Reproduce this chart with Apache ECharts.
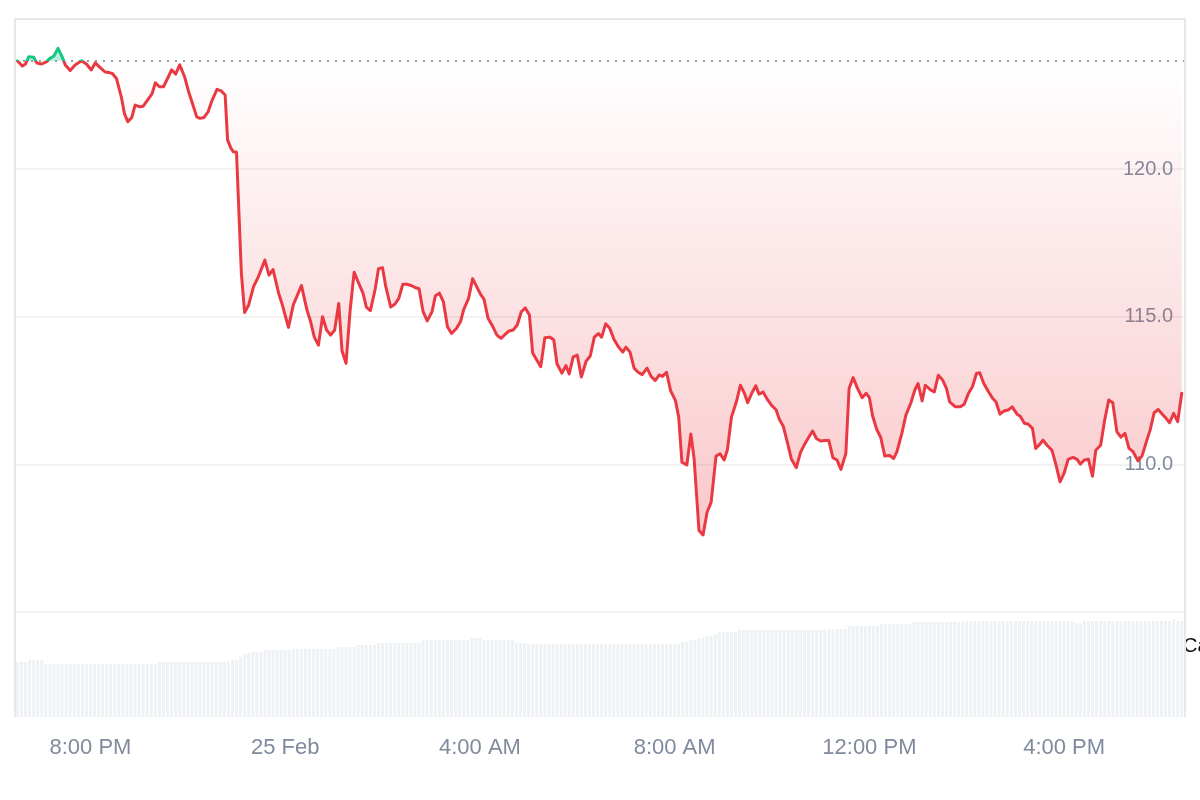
<!DOCTYPE html>
<html>
<head>
<meta charset="utf-8">
<script src="https://cdn.jsdelivr.net/npm/echarts@6/dist/echarts.min.js"></script>
<style>
html,body{margin:0;padding:0;background:#fff;}
#chart{width:1200px;height:800px;}
</style>
</head>
<body>
<div id="chart"></div>
<script>
// Time of each price point, in minutes after 00:00 on 24 Feb
const minutes = [
1110,1116,1120,1124,1130,1134,1140,1146,1150,1155,1160,1165,1169,1175,1181,1189,1195,1201,1206,1212,
1218,1223,1227,1232,1238,1242,1246,1251,1255,1261,1265,1271,1276,1280,1285,1290,1295,1300,1305,1310,
1316,1321,1327,1331,1335,1340,1345,1350,1356,1361,1366,1369,1373,1376,1380,1386,1390,1395,1401,1407,
1415,1420,1425,1432,1436,1444,1450,
1460,1467,1471,1476,1481,1486,1491,1496,1501,1506,1510,1515,1520,1525,1530,1536,1540,1545,1551,1555,
1560,1564,1570,1575,1580,1585,1590,1596,1601,1605,1610,1615,1621,1625,1630,1635,1640,1645,1651,1656,
1660,1666,1671,1676,1681,1685,1690,1696,1701,1706,1711,1716,1721,1726,1731,1736,1741,1745,1750,1755,
1760,1766,1771,1775,1781,1786,1790,1795,1800,1805,1811,1816,
1821,1826,1830,1835,1840,1845,1851,1856,1860,1865,1870,1875,1880,1886,1891,1896,1901,1905,1910,1915,
1921,1925,1929,1935,1940,1944,1950,1955,1960,1965,1971,1976,1981,1985,1990,1996,2001,2006,2010,2015,
2020,2024,2029,2034,2040,2045,2049,2054,2059,2064,2070,2075,2079,2085,2090,2095,2100,2105,2110,2115,
2120,2125,2131,2135,2140,2145,2151,2156,2160,2164,2169,2174,
2179,2185,2190,2194,2200,2205,2211,2216,2220,2225,2229,2235,2240,2245,2250,2255,2259,2266,2272,2277,
2282,2287,2292,2296,2301,2307,2312,2316,2321,2326,2331,2336,2342,2346,2351,2356,2361,2365,2369,2374,
2379,2385,2390,2395,2400,2405,2411,2416,2420,2425,2430,2435,2439,2445,2450,2455,2460,2465,2470,2475,
2480,2485,2491,2496,2502,2506,2511,2516,2521,2526,2530,2535,2540,2545
];

const prices = [
123.67,123.49,123.56,123.81,123.79,123.59,123.56,123.64,123.75,123.83,124.09,123.81,123.53,123.34,123.53,123.67,123.56,123.36,123.60,123.44,
123.29,123.27,123.24,123.07,122.45,121.87,121.61,121.75,122.17,122.11,122.13,122.36,122.56,122.92,122.79,122.79,123.07,123.36,123.22,123.53,
123.13,122.62,122.11,121.77,121.72,121.75,121.94,122.34,122.70,122.65,122.51,120.99,120.71,120.59,120.57,116.47,115.14,115.40,116.02,116.36,
116.92,116.41,116.60,115.79,115.45,114.64,115.40,
116.06,115.21,114.87,114.30,114.04,115.00,114.55,114.38,114.55,115.45,113.85,113.42,115.21,116.51,116.17,115.79,115.33,115.21,115.95,116.63,
116.66,116.02,115.33,115.42,115.62,116.10,116.10,116.05,115.98,115.95,115.17,114.86,115.17,115.70,115.80,115.50,114.66,114.43,114.60,114.83,
115.24,115.62,116.29,116.02,115.75,115.60,114.95,114.66,114.38,114.27,114.40,114.52,114.55,114.72,115.17,115.30,115.06,113.77,113.54,113.31,
114.29,114.31,114.22,113.41,113.09,113.35,113.06,113.64,113.70,112.96,113.50,113.67,
114.31,114.43,114.31,114.76,114.61,114.25,113.97,113.80,113.97,113.80,113.26,113.12,113.04,113.26,112.98,112.84,113.03,112.98,113.12,112.50,
112.16,111.60,110.07,109.98,111.03,110.19,107.76,107.61,108.38,108.72,110.28,110.36,110.15,110.49,111.60,112.11,112.68,112.41,112.09,112.41,
112.66,112.38,112.45,112.21,111.98,111.85,111.53,111.28,110.74,110.17,109.89,110.40,110.62,110.91,111.13,110.87,110.79,110.81,110.81,110.23,
110.15,109.83,110.37,112.57,112.94,112.60,112.26,112.41,112.26,111.64,111.19,110.91,
110.28,110.30,110.20,110.43,111.05,111.67,112.07,112.52,112.74,112.15,112.68,112.53,112.45,113.02,112.87,112.57,112.12,111.95,111.95,112.04,
112.40,112.63,113.08,113.10,112.74,112.45,112.23,112.12,111.70,111.81,111.84,111.95,111.70,111.63,111.39,111.36,111.22,110.54,110.65,110.82,
110.65,110.48,109.98,109.41,109.70,110.17,110.24,110.17,110.01,110.15,110.17,109.60,110.48,110.65,111.50,112.18,112.09,111.11,110.92,111.05,
110.54,110.43,110.12,110.28,110.82,111.16,111.75,111.86,111.70,111.55,111.41,111.73,111.45,112.41
];

// Opening price (dotted reference line)
const basePrice = 123.67;

// Volume bars, one per 5 minutes starting at 18:30 on 24 Feb (relative units)
const volumeStartMinute = 1110;
const volumeStepMinutes = 5;
const volumes = [
55,55,55,57,57,57,57,
53,53,53,53,53,53,53,53,53,53,53,53,53,53,53,53,53,53,53,53,53,53,53,53,53,53,53,53,
55,55,55,55,55,55,55,55,55,55,55,55,55,55,55,55,55,55,
57,57,60,63,64,65,65,65,
67,67,67,67,67,67,67,
68,68,68,68,68,68,68,68,68,68,68,
70,70,70,70,70,
72,72,72,72,72,
74,74,74,74,74,74,74,74,74,74,74,
77,77,77,77,77,77,77,77,77,77,77,77,
79,79,79,
77,77,77,77,77,77,77,77,
74,74,74,
73,73,73,73,73,73,73,73,73,73,73,73,73,73,73,73,73,73,73,73,73,73,73,73,73,73,73,73,73,73,73,73,73,73,73,73,73,73,
75,75,77,77,79,79,81,81,83,
85,85,85,85,85,
87,87,87,87,87,87,87,87,87,87,87,87,87,87,87,87,87,87,87,87,87,87,
88,88,88,88,88,
91,91,91,91,91,91,91,91,
93,93,93,93,93,93,93,93,
95,95,95,95,95,95,95,95,95,95,95,95,95,
96,96,96,96,96,96,96,96,96,96,96,96,96,96,96,96,96,96,96,96,96,96,96,96,96,96,96,
94,94,
96,96,96,96,96,96,96,96,96,96,96,96,96,96,96,96,96,96,96,96,96,96,
98,96,96
];

// X axis range and tick labels (minutes after 00:00 on 24 Feb)
const axisStartMinute = 1107;
const axisEndMinute = 2549;
const tickMinutes = [1200, 1440, 1680, 1920, 2160, 2400];
const tickLabels = ['8:00 PM', '25 Feb', '4:00 AM', '8:00 AM', '12:00 PM', '4:00 PM'];

const priceTicks = { min: 105, max: 125, interval: 5 };

const RED = '#ea3943';
const GREEN = '#16c784';
const LABEL = '#808a9d';
const FONT = '"Liberation Sans", Arial, Helvetica, sans-serif';

const linePts = minutes.map((m, i) => [m, prices[i]]);
const volPts = volumes.map((v, i) => [volumeStartMinute + i * volumeStepMinutes, v]);

// Fill between the price line and the opening price (below → red, above → green),
// positioned through the chart's own axes (api.coord).
function makeAreaRenderer(below, fill) {
  return function (params, api) {
    if (params.dataIndex !== 0) return null;
    const pts = minutes.map((m, i) => api.coord([m, prices[i]]));
    const by = api.coord([axisStartMinute, basePrice])[1];
    const clampY = y => below ? Math.max(y, by) : Math.min(y, by);
    const poly = [[pts[0][0], by]];
    for (let i = 0; i < pts.length; i++) {
      const p = pts[i];
      if (i > 0) {
        const q = pts[i - 1];
        if ((q[1] - by) * (p[1] - by) < 0) {
          const t = (by - q[1]) / (p[1] - q[1]);
          poly.push([q[0] + t * (p[0] - q[0]), by]);
        }
      }
      poly.push([p[0], clampY(p[1])]);
    }
    poly.push([pts[pts.length - 1][0], by]);
    return { type: 'polygon', silent: true, shape: { points: poly }, style: { fill: fill } };
  };
}

const chart = echarts.init(document.getElementById('chart'), null, { renderer: 'canvas' });

chart.setOption({
  animation: false,
  backgroundColor: '#ffffff',
  textStyle: { fontFamily: FONT },
  grid: [
    { left: 15, right: 15, top: 21.5, bottom: 188, containLabel: false },
    { left: 15, right: 15, top: 612, bottom: 83, containLabel: false }
  ],
  xAxis: [
    {
      type: 'value', gridIndex: 0, min: axisStartMinute, max: axisEndMinute,
      show: false, splitLine: { show: false }
    },
    {
      type: 'value', gridIndex: 1, min: axisStartMinute, max: axisEndMinute,
      axisLine: { show: false }, axisTick: { show: false }, splitLine: { show: false },
      axisLabel: {
        customValues: tickMinutes,
        formatter: v => { const k = tickMinutes.indexOf(v); return k >= 0 ? tickLabels[k] : ''; },
        color: LABEL, fontSize: 22, fontFamily: FONT, margin: 20
      }
    }
  ],
  yAxis: [
    {
      type: 'value', gridIndex: 0, position: 'right',
      min: priceTicks.min, max: priceTicks.max, interval: priceTicks.interval,
      axisLine: { show: false }, axisTick: { show: false },
      splitLine: { show: true, showMaxLine: false, lineStyle: { color: '#eeeeee', width: 1.5 } },
      axisLabel: {
        inside: true, margin: 12, color: LABEL, fontSize: 20, fontFamily: FONT,
        showMinLabel: false, showMaxLabel: false,
        formatter: v => v.toFixed(1)
      }
    },
    {
      type: 'value', gridIndex: 1, min: 0, max: 105,
      show: false, splitLine: { show: false }
    }
  ],
  series: [
    {
      name: 'belowFill', type: 'custom', coordinateSystem: 'cartesian2d',
      xAxisIndex: 0, yAxisIndex: 0, z: 1, silent: true, clip: true,
      data: [[axisStartMinute, basePrice]],
      renderItem: makeAreaRenderer(true, new echarts.graphic.LinearGradient(0, 0, 0, 1, [
        { offset: 0, color: 'rgba(234,57,67,0.0)' },
        { offset: 1, color: 'rgba(234,57,67,0.28)' }
      ]))
    },
    {
      name: 'aboveFill', type: 'custom', coordinateSystem: 'cartesian2d',
      xAxisIndex: 0, yAxisIndex: 0, z: 1, silent: true, clip: true,
      data: [[axisStartMinute, basePrice]],
      renderItem: makeAreaRenderer(false, 'rgba(22,199,132,0.3)')
    },
    {
      name: 'Price', type: 'line', xAxisIndex: 0, yAxisIndex: 0, data: linePts,
      symbol: 'none', smooth: false, z: 5,
      lineStyle: { width: 3, color: RED, join: 'round', cap: 'round' },
      markLine: {
        silent: true, symbol: 'none', label: { show: false },
        lineStyle: { type: [2, 6], color: '#9a9a9a', width: 2 },
        data: [ { yAxis: basePrice } ]
      }
    },
    {
      name: 'Volume', type: 'bar', xAxisIndex: 1, yAxisIndex: 1, data: volPts,
      barWidth: 3, itemStyle: { color: '#eff2f5' }, silent: true
    }
  ],
  graphic: [
    {
      type: 'polyline', silent: true, z: 10,
      shape: { points: [[15, 717], [15, 19], [1185, 19], [1185, 717]] },
      style: { fill: null, stroke: '#e8e8e8', lineWidth: 2 }
    },
    {
      type: 'text', left: 1183, top: 636, silent: true,
      style: { text: 'Ca', fill: '#111111', font: '20px ' + FONT }
    }
  ]
});

// colour the price line green above the opening price and red below it
const baseY = chart.convertToPixel({ gridIndex: 0 }, [axisStartMinute, basePrice])[1];
const f = baseY / 800;
chart.setOption({
  series: [{}, {}, {
    lineStyle: {
      color: new echarts.graphic.LinearGradient(0, 0, 0, 800, [
        { offset: 0, color: GREEN }, { offset: f, color: GREEN },
        { offset: f, color: RED }, { offset: 1, color: RED }
      ], true)
    }
  }, {}]
});
</script>
</body>
</html>
